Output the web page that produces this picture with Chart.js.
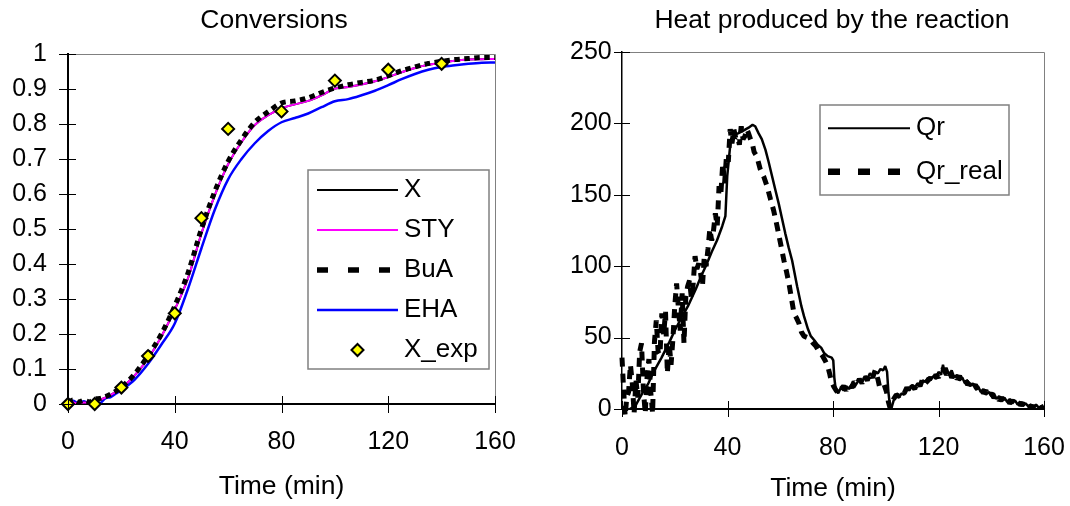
<!DOCTYPE html>
<html>
<head>
<meta charset="utf-8">
<script src="https://cdn.jsdelivr.net/npm/chart.js@4/dist/chart.umd.min.js"></script>
<style>
  body { margin: 0; background: #fff; overflow: hidden; }
  #wrap { position: relative; width: 1070px; height: 506px; overflow: hidden; }
  canvas { position: absolute; top: 0; }
</style>
</head>
<body>
<div id="wrap">
  <canvas id="convChart" width="548" height="506" style="left:0"></canvas>
  <canvas id="heatChart" width="568" height="506" style="left:548px"></canvas>
</div>
<script>
// ---- Conversions (left) ----
var convTime = [0, 2, 4, 6, 8, 10, 12, 14, 16, 18, 20, 25, 30, 35, 40, 45, 50, 55, 60, 65, 70, 75, 80, 85, 90, 95, 100, 105, 110, 115, 120, 125, 130, 135, 140, 145, 150, 155, 160];
var convX   = [0.002, 0.004, 0.001, 0.004, 0.003, 0.008, 0.012, 0.018, 0.026, 0.035, 0.046, 0.082, 0.13, 0.193, 0.27, 0.36, 0.487, 0.596, 0.685, 0.748, 0.797, 0.825, 0.845, 0.856, 0.866, 0.882, 0.901, 0.906, 0.913, 0.922, 0.934, 0.948, 0.96, 0.969, 0.976, 0.981, 0.984, 0.985, 0.986];
var convSTY = [0.002, 0.004, 0.001, 0.004, 0.003, 0.008, 0.012, 0.018, 0.026, 0.035, 0.046, 0.082, 0.13, 0.193, 0.27, 0.36, 0.487, 0.596, 0.685, 0.748, 0.797, 0.825, 0.845, 0.856, 0.866, 0.882, 0.901, 0.906, 0.913, 0.922, 0.934, 0.948, 0.96, 0.969, 0.976, 0.981, 0.984, 0.985, 0.986];
var convBuA = [0.004, 0.012, 0.006, 0.01, 0.006, 0.014, 0.016, 0.021, 0.028, 0.037, 0.048, 0.086, 0.138, 0.2, 0.28, 0.375, 0.5, 0.607, 0.693, 0.755, 0.805, 0.835, 0.86, 0.866, 0.875, 0.89, 0.903, 0.912, 0.919, 0.925, 0.938, 0.952, 0.963, 0.973, 0.979, 0.984, 0.987, 0.99, 0.99];
var convEHA = [0, 0.009, 0.001, 0.008, -0.001, 0.007, 0.003, 0.016, 0.02, 0.03, 0.04, 0.07, 0.115, 0.17, 0.23, 0.33, 0.445, 0.555, 0.642, 0.7, 0.745, 0.78, 0.805, 0.817, 0.83, 0.848, 0.865, 0.871, 0.882, 0.895, 0.911, 0.928, 0.943, 0.955, 0.963, 0.968, 0.972, 0.975, 0.976];
var expTime = [0, 10, 20, 30, 40, 50, 60, 80, 100, 120, 140];
var expX    = [0, 0, 0.047, 0.137, 0.259, 0.531, 0.786, 0.836, 0.924, 0.955, 0.972];

// ---- Heat produced by the reaction (right) ----
var qrTime = [2, 5, 8, 10, 12, 15, 18, 20, 22, 25, 28, 30, 32, 34, 36, 38,
  39.2, 39.9, 41.1, 42.4, 44, 46, 48, 49.5, 50.5, 51.8, 53, 54.4, 55.6, 56.9, 58.2, 59.4, 60.6, 61.9, 63.2, 64.5, 66.4, 68, 69, 70.5, 71.6, 73, 74.2, 75.5, 76.7, 78, 79.5, 80.1, 80.5, 81, 82,
  83, 84, 85, 86, 87, 88, 89, 90, 91, 92, 93, 94, 95, 96, 97, 98, 99,
  99.8, 100.5, 101, 101.6, 102.2,
  103, 104, 105, 106, 107, 108, 109, 110, 111, 112, 113, 114, 115, 116, 117, 118, 119, 120, 121,
  121.7, 122.4,
  123, 124, 125, 126, 127, 128, 129, 130, 131, 132, 133, 134, 135, 136, 137, 138, 139, 140, 141, 142, 143, 144, 145, 146, 147, 148, 149, 150, 151, 152, 153, 154, 155, 156, 157, 158, 159, 160];
var qrHeat = [-1, 2, 12, 18, 26, 36, 47, 55, 62, 72, 84, 93, 101, 110, 118, 128,
  135, 163, 186, 192, 193, 195, 197, 199, 198, 193, 189, 181.5, 173, 163, 153, 144, 134, 123, 113, 104, 86, 72, 65, 56, 51, 48, 45, 43, 39, 37, 36, 34, 22, 14, 11,
  15, 13, 16, 14, 17, 15, 18, 21, 19, 23, 21, 25, 23, 26, 25, 28, 27,
  30, 26, 12, 2, 1,
  6, 9, 8, 11, 10, 14, 13, 17, 15, 18, 17, 20, 19, 22, 20, 23, 21, 26, 24,
  31, 25,
  29, 24, 27, 22, 24, 20, 22, 18, 20, 16, 18, 14, 16, 12, 14, 10, 12, 9, 11, 7, 9, 6, 8, 5, 7, 4, 6, 3, 5, 2, 4, 2, 3, 1, 3, 1, 2, 1];

var qrRealTime = [0, 0.6, 1.2, 1.8, 2.5, 3.2, 3.9, 4.6, 5.3, 6.0, 6.7, 7.4, 8.1, 8.8, 9.5, 10.2, 10.9, 11.6, 12.3, 13.0, 13.7, 14.4, 15.1, 15.8, 16.5, 17.2, 17.9, 18.6, 19.3, 20.0,
  20.7, 21.4, 22.1, 22.8, 23.5, 24.2, 24.9, 25.6, 26.3, 27.0, 27.7, 28.4, 29.1, 29.8, 30.5, 31.2, 31.9, 32.6, 33.3, 34.0, 34.7, 35.4, 36.1, 36.8, 37.5, 38.2, 38.9, 39.6, 40.3, 41.0,
  41.7, 42.4, 43.1, 43.8, 44.5, 45.2, 45.9, 46.6, 47.3, 48.0, 48.7, 49.4, 50.1,
  51.1, 52.4, 53.7, 55, 56.3, 57.5, 58.8, 60.1, 61.4, 62.4, 63.3, 64.2, 65.2, 66.1, 67.1, 68, 69, 70.3, 71.6, 72.5, 73.5, 74.8, 76.1, 77, 78, 78.7, 79.3, 80.2, 81.2, 82.2,
  83, 84, 85, 86, 87, 88, 89, 90, 91, 92, 93, 94, 95, 96,
  97, 97.6, 98.5, 99.4, 100.3, 101, 101.6, 102.2,
  103, 104, 105, 106, 107, 108, 109, 110, 111, 112, 113, 114, 115, 116, 117, 118, 119, 120, 121, 122, 123, 124, 125, 126, 127, 128, 129, 130, 131, 132,
  133, 134, 135, 136, 137, 138, 139, 140, 141, 142, 143, 144, 145, 146, 147, 148, 149, 150, 151, 152, 153, 154, 155, 156, 157, 158, 159, 160];
var qrRealHeat = [36, 14, -5, 8, 12, 31, 18, -3, 20, 8, 40, 46, 14, -3, 22, 35, 12, -3, 47, 62, 40, 38, 67, 52, 68, 25, 46, 31, 49, 72,
  88, 70, 55, 81, 46, 79, 86, 90, 78, 88, 107, 98, 102, 95, 86, 107, 100, 112, 126, 118, 125, 137, 128, 156, 151, 172, 158, 177, 173, 196,
  186, 196, 190, 191, 185, 198, 189, 191, 196, 193, 189, 186, 180,
  177, 168, 163, 156, 147, 139, 128, 116, 104, 96, 88, 78, 67, 64, 60, 54, 51, 50, 48, 46, 44, 40, 37, 34, 30, 25, 20, 16, 13, 11,
  14, 16, 13, 17, 15, 19, 17, 21, 18, 23, 20, 25, 22, 27,
  21, 16, 15, 17, 12, 5, 1, 3,
  7, 10, 9, 12, 11, 15, 12, 16, 14, 19, 16, 21, 18, 20, 22, 19, 24, 22, 27, 28, 24, 27, 22, 25, 21, 23, 19, 21, 17, 19,
  15, 17, 13, 15, 11, 13, 9, 11, 8, 10, 6, 8, 5, 7, 4, 6, 3, 5, 3, 4, 1, 3, 1, 2, 0, 2, 1, 2];

function pairs(xs, ys) {
  return xs.map(function(x, i) { return { x: x, y: ys[i] }; });
}

Chart.defaults.font.family = '"Liberation Sans", Arial, sans-serif';
Chart.defaults.color = '#000';

// Excel-like frame: grey top/right border, ticks crossing the axes, boxed legend
var excelFrame = {
  id: 'excelFrame',
  afterDraw: function(chart, args, opts) {
    var ctx = chart.ctx, a = chart.chartArea, sx = chart.scales.x, sy = chart.scales.y;
    ctx.save();
    ctx.strokeStyle = '#808080';
    ctx.lineWidth = 1;
    ctx.beginPath();
    ctx.moveTo(a.left, a.top + 0.5);
    ctx.lineTo(a.right + 0.5, a.top + 0.5);
    ctx.lineTo(a.right + 0.5, a.bottom);
    ctx.stroke();

    ctx.strokeStyle = '#000';
    ctx.lineWidth = 1;
    ctx.beginPath();
    sx.ticks.forEach(function(t, i) {
      var px = Math.round(sx.getPixelForTick(i)) + 0.5;
      ctx.moveTo(px, a.bottom - opts.tickIn);
      ctx.lineTo(px, a.bottom + opts.tickOut);
    });
    sy.ticks.forEach(function(t, i) {
      var py = Math.round(sy.getPixelForTick(i)) + 0.5;
      ctx.moveTo(a.left - opts.tickOut, py);
      ctx.lineTo(a.left + opts.tickIn, py);
    });
    ctx.stroke();

    // legend
    var lg = opts.legend;
    ctx.strokeStyle = '#808080';
    ctx.lineWidth = 1.5;
    ctx.strokeRect(lg.box[0], lg.box[1], lg.box[2] - lg.box[0], lg.box[3] - lg.box[1]);
    ctx.font = lg.fontSize + 'px "Liberation Sans", Arial, sans-serif';
    ctx.textBaseline = 'middle';
    ctx.textAlign = 'left';
    chart.data.datasets.forEach(function(ds, i) {
      var y = lg.top + i * lg.gap;
      if (ds.showLine === false) {
        var cx = (lg.x0 + lg.x1) / 2, r = ds.pointRadius;
        ctx.beginPath();
        ctx.moveTo(cx - r, y);
        ctx.lineTo(cx, y - r);
        ctx.lineTo(cx + r, y);
        ctx.lineTo(cx, y + r);
        ctx.closePath();
        ctx.fillStyle = ds.pointBackgroundColor;
        ctx.fill();
        ctx.setLineDash([]);
        ctx.lineWidth = ds.pointBorderWidth;
        ctx.strokeStyle = ds.pointBorderColor;
        ctx.stroke();
      } else {
        ctx.beginPath();
        ctx.moveTo(lg.x0, y);
        ctx.lineTo(lg.x1, y);
        ctx.setLineDash(ds.legendDash || []);
        ctx.lineWidth = ds.legendWidth || ds.borderWidth;
        ctx.strokeStyle = ds.borderColor;
        ctx.stroke();
        ctx.setLineDash([]);
      }
      ctx.fillStyle = '#000';
      ctx.fillText(ds.label, lg.textX, y);
    });
    ctx.restore();
  }
};

// empty right-hand axis, only there to reserve room so the title centres like the original
function spacerAxis(width) {
  return {
    type: 'linear',
    position: 'right',
    display: true,
    grid: { drawOnChartArea: false, drawTicks: false },
    border: { display: false },
    ticks: { display: false },
    afterFit: function(scale) { scale.width = width; }
  };
}

new Chart(document.getElementById('convChart').getContext('2d'), {
  type: 'line',
  data: {
    datasets: [{
      label: 'X',
      data: pairs(convTime, convX),
      borderColor: '#000000',
      borderWidth: 2,
      legendWidth: 2,
      pointRadius: 0,
      cubicInterpolationMode: 'monotone',
      order: 3
    }, {
      label: 'STY',
      data: pairs(convTime, convSTY),
      borderColor: '#FF00FF',
      borderWidth: 2,
      legendWidth: 2,
      pointRadius: 0,
      cubicInterpolationMode: 'monotone',
      order: 2
    }, {
      label: 'BuA',
      data: pairs(convTime, convBuA),
      borderColor: '#000000',
      borderWidth: 5,
      borderDash: [5.5, 4.5],
      legendDash: [11, 20],
      legendWidth: 5.5,
      pointRadius: 0,
      cubicInterpolationMode: 'monotone',
      order: 1
    }, {
      label: 'EHA',
      data: pairs(convTime, convEHA),
      borderColor: '#0000FF',
      borderWidth: 2.5,
      legendWidth: 2.3,
      pointRadius: 0,
      cubicInterpolationMode: 'monotone',
      order: 4
    }, {
      label: 'X_exp',
      data: pairs(expTime, expX),
      showLine: false,
      pointStyle: 'rectRot',
      pointRadius: 6,
      pointBackgroundColor: '#FFFF00',
      pointBorderColor: '#000000',
      pointBorderWidth: 2,
      clip: false,
      order: 0
    }]
  },
  options: {
    responsive: false,
    animation: false,
    events: [],
    layout: { padding: 0 },
    plugins: {
      legend: { display: false },
      tooltip: { enabled: false },
      title: {
        display: true,
        text: 'Conversions',
        color: '#000',
        font: { size: 26.5, weight: 'normal' },
        padding: { top: 4.4, bottom: 17.8 }
      },
      excelFrame: {
        tickIn: 8,
        tickOut: 9,
        legend: { box: [308, 170, 489, 369], x0: 317, x1: 398, textX: 404, top: 190, gap: 40, fontSize: 26 }
      }
    },
    scales: {
      x: {
        type: 'linear',
        min: 0,
        max: 160,
        ticks: { stepSize: 40, padding: 23.5, maxRotation: 0, font: { size: 25 }, color: '#000' },
        grid: { drawOnChartArea: false, drawTicks: false },
        border: { color: '#000', width: 2 },
        title: { display: true, text: 'Time (min)', color: '#000', font: { size: 26.5 }, padding: { top: 0, bottom: 3.4 } },
        afterFit: function(scale) { scale.height = 102; }
      },
      y: {
        type: 'linear',
        min: 0,
        max: 1,
        ticks: {
          stepSize: 0.1, padding: 21, font: { size: 25 }, color: '#000',
          callback: function(value) { return String(Math.round(value * 10) / 10); }
        },
        grid: { drawOnChartArea: false, drawTicks: false },
        border: { color: '#000', width: 2 },
        afterFit: function(scale) { scale.width = 68; }
      },
      ySpace: spacerAxis(53)
    }
  },
  plugins: [excelFrame]
});

new Chart(document.getElementById('heatChart').getContext('2d'), {
  type: 'line',
  data: {
    datasets: [{
      label: 'Qr',
      data: pairs(qrTime, qrHeat),
      borderColor: '#000000',
      borderWidth: 2.5,
      borderJoinStyle: 'bevel',
      legendWidth: 2,
      pointRadius: 0,
      tension: 0,
      order: 0
    }, {
      label: 'Qr_real',
      data: pairs(qrRealTime, qrRealHeat),
      borderColor: '#000000',
      borderWidth: 5,
      borderDash: [9, 7],
      borderJoinStyle: 'bevel',
      legendDash: [12, 18],
      legendWidth: 6.5,
      pointRadius: 0,
      tension: 0,
      clip: false,
      order: 1
    }]
  },
  options: {
    responsive: false,
    animation: false,
    events: [],
    layout: { padding: 0 },
    plugins: {
      legend: { display: false },
      tooltip: { enabled: false },
      title: {
        display: true,
        text: 'Heat produced by the reaction',
        color: '#000',
        font: { size: 26.5, weight: 'normal' },
        padding: { top: 4.4, bottom: 15.8 }
      },
      excelFrame: {
        tickIn: 8,
        tickOut: 8,
        legend: { box: [272, 105, 461, 195], x0: 280, x1: 362, textX: 368, top: 128.3, gap: 43.4, fontSize: 26 }
      }
    },
    scales: {
      x: {
        type: 'linear',
        min: 0,
        max: 160,
        ticks: { stepSize: 40, padding: 24.3, maxRotation: 0, font: { size: 25 }, color: '#000' },
        grid: { drawOnChartArea: false, drawTicks: false },
        border: { color: '#000', width: 2 },
        title: { display: true, text: 'Time (min)', color: '#000', font: { size: 26.5 }, padding: { top: 0, bottom: 1.8 } },
        afterFit: function(scale) { scale.height = 97; }
      },
      y: {
        type: 'linear',
        min: 0,
        max: 250,
        ticks: { stepSize: 50, padding: 10.3, font: { size: 25 }, color: '#000' },
        grid: { drawOnChartArea: false, drawTicks: false },
        border: { color: '#000', width: 1.5 },
        afterFit: function(scale) { scale.width = 74; }
      },
      ySpace: spacerAxis(72)
    }
  },
  plugins: [excelFrame]
});
</script>
</body>
</html>
